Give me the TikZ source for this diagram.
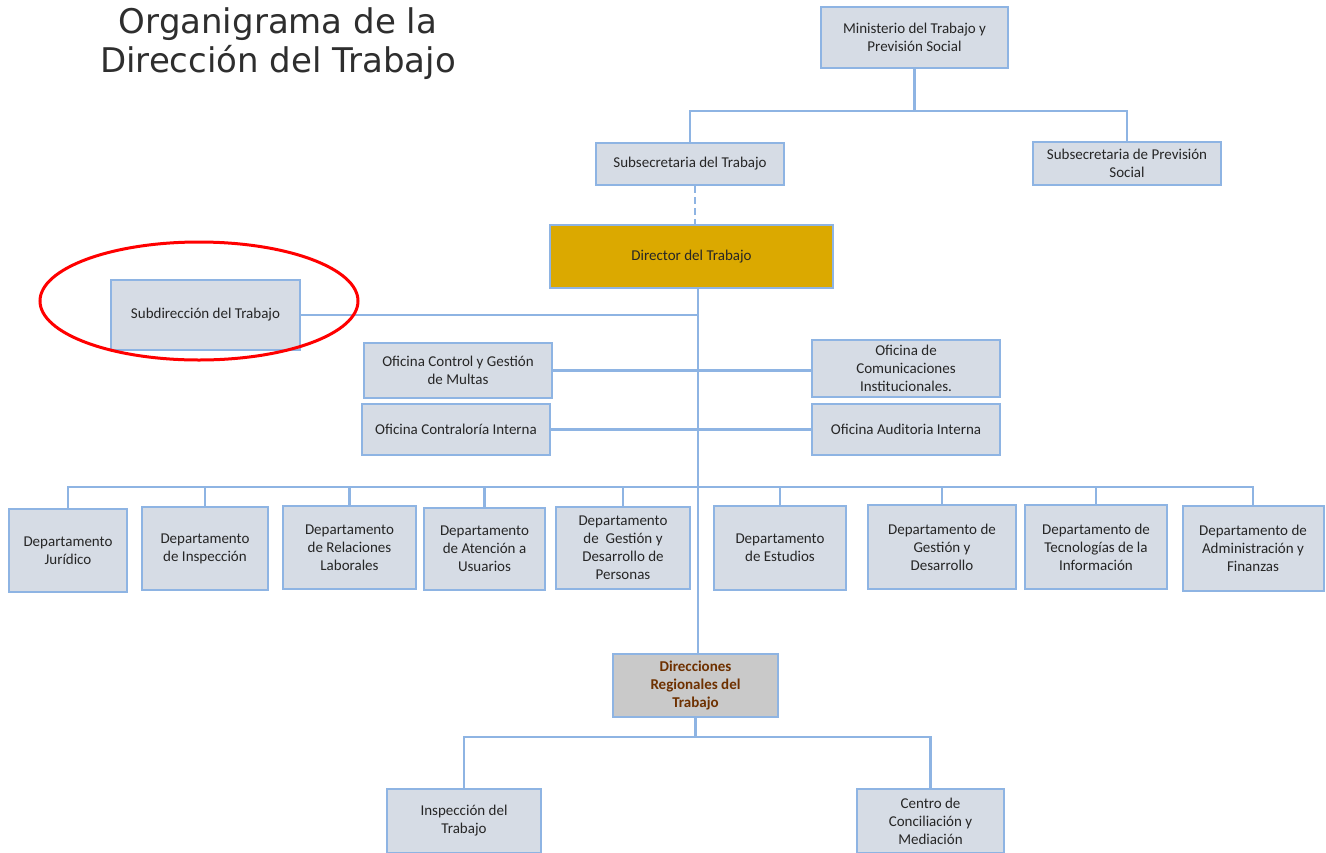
\documentclass[tikz,border=0pt]{standalone}
\usepackage{fontspec}
\setmainfont{Carlito}
\newfontfamily\titlefont{DejaVu Sans}
\definecolor{boxfill}{HTML}{D6DCE5}
\definecolor{boxline}{HTML}{8EB4E3}
\definecolor{gold}{HTML}{DBA900}
\definecolor{txt}{HTML}{262626}
\definecolor{drfill}{HTML}{C9C9C9}
\definecolor{drtxt}{HTML}{6E3000}
\definecolor{titletxt}{HTML}{2E2E2E}
\begin{document}
\begin{tikzpicture}[x=1pt,y=-1pt,
  box/.style={draw=boxline, line width=2pt, fill=boxfill, align=center, text=txt,
    font=\fontsize{15}{18}\selectfont, inner sep=2pt},
  link/.style={draw=boxline, line width=2.2pt}]
\useasboundingbox (0,0) rectangle (1326,852);
\fill[white] (0,0) rectangle (1326,852);

\node[font=\titlefont\fontsize{34}{39}\selectfont, text=titletxt, align=center] (title) at (278,44) {Organigrama de la\\Dirección del Trabajo};

\node[box, minimum width=187, minimum height=61] (min) at (914.5,37.5) {Ministerio del Trabajo y\\Previsión Social};
\node[box, minimum width=188, minimum height=42] (subt) at (690,164) {Subsecretaria del Trabajo};
\node[box, minimum width=188, minimum height=43] (subp) at (1127,163.5) {Subsecretaria de Previsión\\Social};
\node[box, fill=gold, minimum width=283, minimum height=63] (dir) at (691.5,256.5) {Director del Trabajo};
\node[box, minimum width=189, minimum height=70] (subd) at (205.5,315) {Subdirección del Trabajo};
\node[box, minimum width=188, minimum height=55] (ocm) at (458,370.5) {Oficina Control y Gestión\\de Multas};
\node[box, minimum width=188, minimum height=57] (oci) at (906,368.5) {Oficina de\\Comunicaciones\\Institucionales.};
\node[box, minimum width=188, minimum height=51] (oct) at (456,429.5) {Oficina Contraloría Interna};
\node[box, minimum width=188, minimum height=51] (oai) at (906,429.5) {Oficina Auditoria Interna};

\node[box, minimum width=118, minimum height=83] (d1) at (68,550.5) {Departamento\\Jurídico};
\node[box, minimum width=126, minimum height=83] (d2) at (205,548.5) {Departamento\\de Inspección};
\node[box, minimum width=133, minimum height=83] (d3) at (349.5,547.5) {Departamento\\de Relaciones\\Laborales};
\node[box, minimum width=121, minimum height=82] (d4) at (484.5,549) {Departamento\\de Atención a\\Usuarios};
\node[box, minimum width=134, minimum height=82] (d5) at (623,548) {Departamento\\de \ Gestión y\\Desarrollo de\\Personas};
\node[box, minimum width=132, minimum height=84] (d6) at (780,548) {Departamento\\de Estudios};
\node[box, minimum width=148, minimum height=84] (d7) at (942,547) {Departamento de\\Gestión y\\Desarrollo};
\node[box, minimum width=142, minimum height=84] (d8) at (1096,547) {Departamento de\\Tecnologías de la\\Información};
\node[box, minimum width=141, minimum height=85] (d9) at (1253,548.5) {Departamento de\\Administración y\\Finanzas};

\node[box, fill=drfill, text=drtxt, font=\bfseries\fontsize{15}{18}\selectfont, minimum width=165, minimum height=63] (dr) at (695.5,685.5) {Direcciones\\Regionales del\\Trabajo};
\node[box, minimum width=154, minimum height=64] (ins) at (464,821) {Inspección del\\Trabajo};
\node[box, minimum width=147, minimum height=64] (cen) at (930.5,821) {Centro de\\Conciliación y\\Mediación};

\coordinate (bus1) at (0,111);
\coordinate (tk) at (698,0);
\coordinate (dsh) at (695,0);
\coordinate (bus2) at (0,487);
\coordinate (bus3) at (0,737);

\draw[link] (min.south) -- (min.south |- bus1);
\draw[link] (subt.north) |- (subp.north |- bus1) -- (subp.north);
\draw[link, dash pattern=on 7pt off 4pt] (subt.south -| dsh) -- (dir.north -| dsh);
\draw[link] (dir.south -| tk) -- (dr.north -| tk);
\draw[link] (subd.east) -- (subd.east -| tk);
\draw[link] (ocm.east) -- (ocm.east -| oci.west);
\draw[link] (oct.east) -- (oai.west);
\draw[link] (d1.north) |- (d9.north |- bus2) -- (d9.north);
\foreach \d in {d2,d3,d4,d5,d6,d7,d8} {\draw[link] (\d.north) -- (\d.north |- bus2);}
\draw[link] (dr.south) -- (dr.south |- bus3);
\draw[link] (ins.north) |- (cen.north |- bus3) -- (cen.north);

\draw[red, line width=3pt] (199,301) ellipse [x radius=159pt, y radius=59pt];
\end{tikzpicture}
\end{document}
